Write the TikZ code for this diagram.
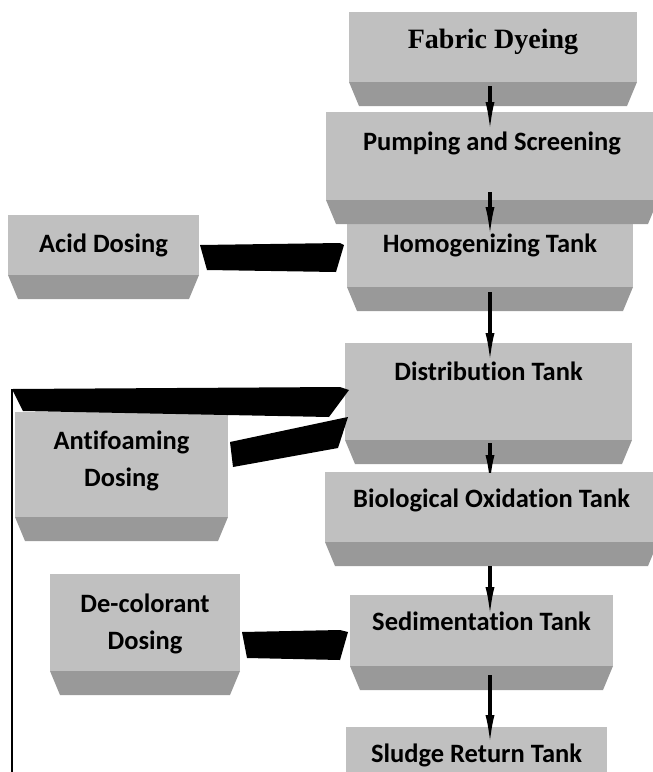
\documentclass[tikz,border=0pt]{standalone}
\usepackage{fontspec}
\setsansfont[Ligatures={NoCommon}]{Carlito}
\newfontfamily\headfont{Liberation Serif}
\usetikzlibrary{arrows.meta,calc}

\definecolor{facegray}{HTML}{C0C0C0}
\definecolor{basegray}{HTML}{999999}

\newcommand{\tankbase}[1]{%
  \fill[basegray] (#1.south west) -- (#1.south east) -- ++(-10,24) -- ($(#1.south west)+(10,24)$) -- cycle;}

\begin{document}
\begin{tikzpicture}[x=1pt, y=-1pt,
  tank/.style={fill=facegray, anchor=north west, inner sep=0pt, outer sep=0pt,
    align=center, font=\sffamily\bfseries\fontsize{26.5}{37}\selectfont},
  flow/.style={line width=3.2pt, -{Latex[length=30pt,width=9pt]}},
  blk/.style={fill=black},
  loopline/.style={line width=2.4pt}
]
\clip (0,0) rectangle (653,772);

\node[tank, minimum width=288pt, text height=36pt, text depth=34pt,
  font=\headfont\bfseries\fontsize{28}{37}\selectfont] (fabric) at (349,12) {Fabric Dyeing};
\tankbase{fabric}

\node[tank, minimum width=286pt, text height=29pt, text depth=35pt] (homog) at (347,223) {Homogenizing Tank};
\tankbase{homog}

\node[tank, minimum width=332pt, text height=38pt, text depth=50pt] (pump) at (326,112) {Pumping and Screening};
\tankbase{pump}

\node[tank, minimum width=287pt, text height=37pt, text depth=60pt] (dist) at (345,343) {Distribution Tank};
\tankbase{dist}

\node[tank, minimum width=333pt, text height=35pt, text depth=35pt] (bio) at (325,472) {Biological Oxidation Tank};
\tankbase{bio}

\node[tank, minimum width=263pt, text height=35pt, text depth=36pt] (sed) at (350,595) {Sedimentation Tank};
\tankbase{sed}

\node[tank, minimum width=261pt, text height=35pt, text depth=60pt] (sludge) at (346,727) {Sludge Return Tank};

\node[tank, minimum width=191pt, text height=37pt, text depth=23pt] (acid) at (8,215) {Acid Dosing};
\tankbase{acid}

\node[tank, minimum width=213pt, text height=74pt, text depth=31pt] (foam) at (15,412) {Antifoaming\\Dosing};
\tankbase{foam}

\node[tank, minimum width=190pt, text height=75pt, text depth=22pt] (decol) at (50,574) {De-colorant\\Dosing};
\tankbase{decol}

\coordinate (spine) at (490,0);
\coordinate (loopend) at (12,772);

\draw[flow] ($(fabric.south -| spine)+(0,4)$) -- ($(pump.north -| spine)+(0,20)$);
\draw[flow] ($(pump.south -| spine)+(0,-8)$) -- ($(homog.north -| spine)+(0,14)$);
\draw[flow] ($(homog.south -| spine)+(0,5)$) -- ($(dist.north -| spine)+(0,20)$);
\begin{scope}
  \clip (0,0) rectangle (bio.north east);
  \draw[flow] ($(dist.south -| spine)+(0,3)$) -- ($(bio.north -| spine)+(0,13)$);
\end{scope}
\draw[flow] ($(bio.south -| spine)+(0,24)$) -- ($(sed.north -| spine)+(0,22)$);
\draw[flow] ($(sed.south -| spine)+(0,9)$) -- ($(sludge.north -| spine)+(0,18)$);

\fill[blk] ($(acid.east)+(1,0)$) -- ($(homog.west)+(-7,-12)$) -- ($(homog.west)+(-3,-10)$)
  -- ($(homog.west)+(-11,17)$) -- ($(acid.east)+(8,25)$) -- cycle;

\draw[loopline] (loopend) -- ($(loopend |- dist.west)+(0,-2.5)$);
\fill[blk] ($(loopend |- dist.west)+(0,-2.5)$) -- ($(dist.west)+(-5,-4.5)$) -- ($(dist.west)+(4,-1.5)$)
  -- ($(dist.west)+(-16,25.5)$) -- ($(loopend |- dist.west)+(11,19.5)$) -- cycle;

\fill[blk] ($(foam.east)+(2,-22.5)$) -- ($(dist.west)+(-2,26.5)$) -- ($(dist.west)+(3,25.5)$)
  -- ($(dist.west)+(-7,56.5)$) -- ($(foam.east)+(5,2.5)$) -- cycle;

\fill[blk] ($(decol.east)+(2,9.5)$) -- ($(sed.west)+(-10,-0.5)$) -- ($(sed.west)+(-2,1.5)$)
  -- ($(sed.west)+(-10,29.5)$) -- ($(decol.east)+(7,35.5)$) -- cycle;
\end{tikzpicture}
\end{document}
